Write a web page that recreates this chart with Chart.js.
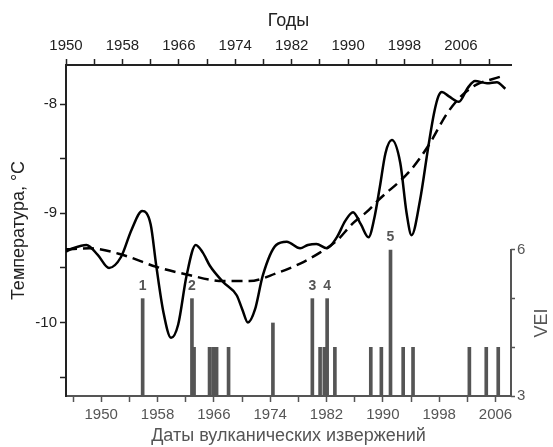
<!DOCTYPE html>
<html>
<head>
<meta charset="utf-8">
<script src="https://cdn.jsdelivr.net/npm/chart.js@4.4.0/dist/chart.umd.min.js"></script>
<style>
  html, body { margin: 0; padding: 0; background: #fff; }
</style>
</head>
<body>
<canvas id="tempChart" width="553" height="447"></canvas>
<script>
// Smoothed temperature (years on the top axis)
const tempYears = [1950.0, 1951.0, 1952.9, 1954.5, 1956.1, 1957.8, 1959.3, 1960.8, 1962.0, 1962.8,
  1963.8, 1964.9, 1965.9, 1967.1, 1968.4, 1969.4, 1970.4, 1972.3, 1974.2, 1975.0,
  1975.8, 1976.8, 1977.9, 1979.8, 1981.3, 1983.2, 1984.3, 1985.5, 1987.0, 1988.4,
  1989.6, 1990.7, 1991.8, 1992.9, 1993.7, 1994.5, 1995.3, 1996.2, 1997.4, 1998.3,
  1999.0, 2000.2, 2001.4, 2002.2, 2002.8, 2003.3, 2004.3, 2005.7, 2007.0, 2008.0,
  2009.7, 2011.1, 2012.3];
const tempValues = [-9.35, -9.32, -9.29, -9.38, -9.50, -9.40, -9.15, -8.98, -9.10, -9.48,
  -9.90, -10.14, -10.02, -9.57, -9.29, -9.36, -9.48, -9.63, -9.75, -9.88,
  -10.00, -9.88, -9.57, -9.29, -9.26, -9.32, -9.29, -9.28, -9.32, -9.22,
  -9.07, -8.99, -9.10, -9.22, -9.05, -8.76, -8.45, -8.33, -8.54, -9.00,
  -9.20, -8.88, -8.38, -8.08, -7.93, -7.89, -7.93, -7.98, -7.85, -7.79,
  -7.81, -7.80, -7.86];

// Trend curve
const trendYears = [1950.0, 1953.3, 1958.0, 1962.8, 1967.1, 1972.3, 1976.0, 1979.8, 1983.2, 1986.0,
  1988.4, 1990.7, 1992.6, 1994.3, 1998.8, 2001.4, 2004.0, 2006.0, 2008.0, 2011.6];
const trendValues = [-9.33, -9.32, -9.38, -9.49, -9.56, -9.62, -9.62, -9.55, -9.46, -9.36,
  -9.25, -9.09, -8.99, -8.88, -8.61, -8.38, -8.09, -7.93, -7.83, -7.75];

// Eruptions (years on the bottom axis) and their VEI
const eruptionYears = [1956.1, 1963.1, 1963.4, 1965.6, 1966.1, 1966.4, 1966.6, 1968.3, 1974.6, 1980.2,
  1981.3, 1981.9, 1982.3, 1983.4, 1988.5, 1990.0, 1991.3, 1993.1, 1994.5, 2002.5,
  2004.9, 2006.6];
const eruptionVEI = [5, 5, 4, 4, 4, 4, 4, 4, 4.5, 5,
  4, 4, 5, 4, 4, 4, 6, 4, 4, 4,
  4, 4];
const eruptionLabels = ['1', '2', '', '', '', '', '', '', '', '3',
  '', '', '4', '', '', '', '5', '', '', '',
  '', ''];

// Axis labels
const topTickYears = [1950, 1958, 1966, 1974, 1982, 1990, 1998, 2006];
const bottomTickYears = [1950, 1958, 1966, 1974, 1982, 1990, 1998, 2006];
const tempTicks = [-10, -9, -8];
const veiTicks = [3, 6];

const pairs = (xs, ys) => xs.map((x, i) => ({ x: x, y: ys[i] }));

// every 4 years between labelled years, plus one step either side
function yearTicks(labels, min, max) {
  const out = [];
  for (let v = labels[0] - 4; v <= labels[labels.length - 1] + 4; v += 4) {
    if (v >= min && v <= max) out.push({ value: v });
  }
  return out;
}

Chart.defaults.font.family = '"Liberation Sans", Arial, sans-serif';

const barLabels = {
  id: 'barLabels',
  afterDatasetsDraw(chart) {
    const ctx = chart.ctx;
    const meta = chart.getDatasetMeta(0);
    ctx.save();
    ctx.font = 'bold 14px "Liberation Sans", Arial, sans-serif';
    ctx.fillStyle = '#555';
    ctx.textAlign = 'center';
    ctx.textBaseline = 'bottom';
    meta.data.forEach((bar, i) => {
      if (eruptionLabels[i]) ctx.fillText(eruptionLabels[i], bar.x, bar.y - 6);
    });
    ctx.restore();
  }
};

// VEI axis line only runs over the 3..6 range
const veiAxis = {
  id: 'veiAxis',
  afterDraw(chart) {
    const s = chart.scales.vei;
    const ctx = chart.ctx;
    ctx.save();
    ctx.strokeStyle = '#555';
    ctx.lineWidth = 2;
    ctx.beginPath();
    ctx.moveTo(s.left, s.getPixelForValue(6) - 1);
    ctx.lineTo(s.left, s.getPixelForValue(3) + 1);
    ctx.stroke();
    ctx.translate(s.left + 31, s.getPixelForValue(4.5));
    ctx.rotate(-Math.PI / 2);
    ctx.font = '18px "Liberation Sans", Arial, sans-serif';
    ctx.fillStyle = '#555';
    ctx.textAlign = 'center';
    ctx.textBaseline = 'middle';
    ctx.fillText('VEI', 0, 0);
    ctx.restore();
  }
};

new Chart(document.getElementById('tempChart'), {
  type: 'bar',
  data: {
    datasets: [{
      type: 'bar',
      data: pairs(eruptionYears, eruptionVEI),
      xAxisID: 'xb',
      yAxisID: 'vei',
      base: 3,
      barThickness: 3,
      backgroundColor: '#555',
      order: 3
    }, {
      type: 'line',
      data: pairs(tempYears, tempValues),
      xAxisID: 'xt',
      yAxisID: 'y',
      borderColor: '#000',
      borderWidth: 2.5,
      pointRadius: 0,
      cubicInterpolationMode: 'monotone',
      order: 1
    }, {
      type: 'line',
      data: pairs(trendYears, trendValues),
      xAxisID: 'xt',
      yAxisID: 'y',
      borderColor: '#000',
      borderWidth: 2.5,
      borderDash: [11, 6],
      pointRadius: 0,
      cubicInterpolationMode: 'monotone',
      order: 2
    }]
  },
  options: {
    responsive: false,
    animation: false,
    layout: { padding: 0 },
    plugins: {
      legend: { display: false },
      tooltip: { enabled: false }
    },
    scales: {
      xt: {
        type: 'linear',
        position: 'top',
        offset: false,
        min: 1950,
        max: 2013.1,
        afterBuildTicks: s => { s.ticks = yearTicks(topTickYears, 1950, 2013.1); },
        afterFit: s => { s.height = 65; },
        ticks: {
          autoSkip: false,
          maxRotation: 0,
          padding: 4,
          color: '#222',
          font: { size: 15 },
          callback: v => topTickYears.includes(v) ? String(v) : ''
        },
        grid: { drawOnChartArea: false, offset: false, tickLength: 6, tickColor: '#222', tickWidth: 1.5 },
        border: { color: '#222', width: 2 },
        title: { display: true, text: 'Годы', color: '#222', font: { size: 18 }, padding: { top: 10, bottom: 0 } }
      },
      xb: {
        type: 'linear',
        position: 'bottom',
        offset: false,
        min: 1945,
        max: 2008.2,
        afterBuildTicks: s => { s.ticks = yearTicks(bottomTickYears, 1945, 2008.2); },
        afterFit: s => { s.height = 51; },
        ticks: {
          autoSkip: false,
          maxRotation: 0,
          padding: 4,
          color: '#555',
          font: { size: 15 },
          callback: v => bottomTickYears.includes(v) ? String(v) : ''
        },
        grid: { drawOnChartArea: false, offset: false, tickLength: 6, tickColor: '#555', tickWidth: 1.5 },
        border: { color: '#555', width: 2 },
        title: { display: true, text: 'Даты вулканических извержений', color: '#555', font: { size: 18 }, padding: { top: 0, bottom: 0 } }
      },
      y: {
        type: 'linear',
        position: 'left',
        min: -10.672,
        max: -7.643,
        afterBuildTicks: s => { s.ticks = [-10.5, -10, -9.5, -9, -8.5, -8].map(v => ({ value: v })); },
        afterFit: s => { s.width = 66; },
        ticks: {
          autoSkip: false,
          padding: 3,
          color: '#222',
          font: { size: 15 },
          callback: v => tempTicks.includes(v) ? String(v) : ''
        },
        grid: { drawOnChartArea: false, tickLength: 6, tickColor: '#222', tickWidth: 1.5 },
        border: { color: '#222', width: 2 },
        title: { display: true, text: 'Температура, °C', color: '#222', font: { size: 18 }, padding: { top: 8, bottom: 0 } }
      },
      vei: {
        type: 'linear',
        position: 'right',
        min: 3,
        max: 9.8,
        afterBuildTicks: s => { s.ticks = [3, 4, 5, 6].map(v => ({ value: v })); },
        afterFit: s => { s.width = 42; },
        ticks: {
          autoSkip: false,
          padding: 2,
          color: '#555',
          font: { size: 15 },
          callback: v => veiTicks.includes(v) ? String(v) : ''
        },
        grid: { drawOnChartArea: false, tickLength: 4, tickColor: '#555', tickWidth: 1.5 },
        border: { display: false }
      }
    }
  },
  plugins: [barLabels, veiAxis]
});
</script>
</body>
</html>
